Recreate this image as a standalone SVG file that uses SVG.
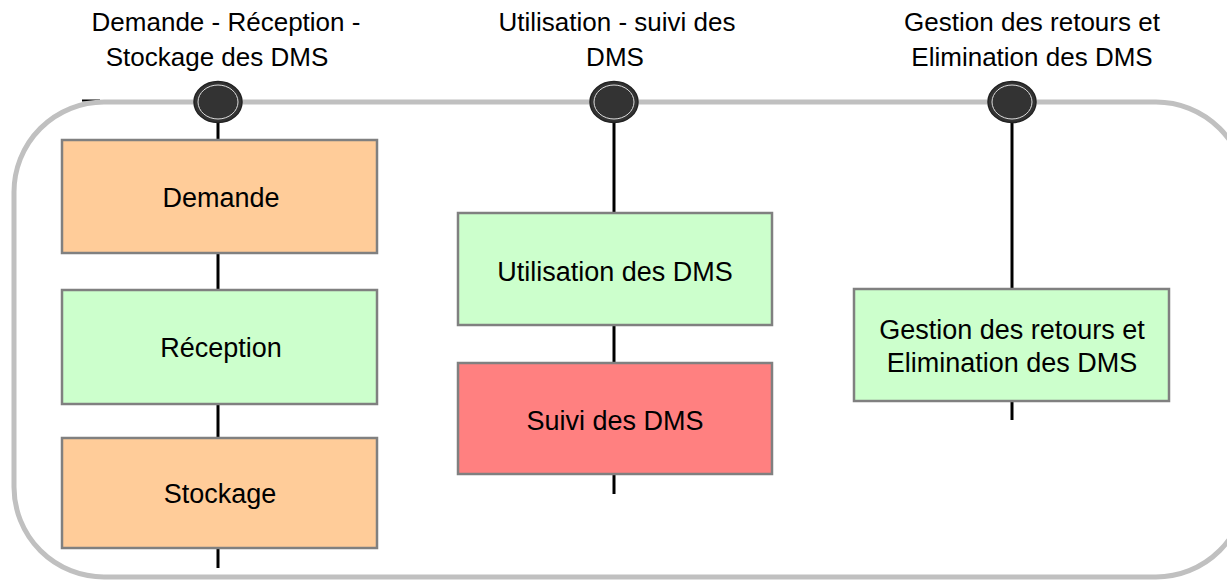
<svg xmlns="http://www.w3.org/2000/svg" width="1227" height="582" viewBox="0 0 1227 582">
<style>
text{font-family:"Liberation Sans",Arial,sans-serif;font-size:27px;fill:#000;text-anchor:middle}
.t{font-size:26px}
.box{stroke:#808080;stroke-width:2.5}
.o{fill:#FFCC99}.g{fill:#CCFFCC}.r{fill:#FF8080}
.c line{stroke:#000;stroke-width:3}
.dot{fill:#333;stroke:#222;stroke-width:1.5}
.ring{fill:none;stroke:#ddd;stroke-width:1}
</style>
<line x1="82" y1="100.5" x2="100" y2="100.5" stroke="#000" stroke-width="2"/>
<rect id="frame" x="14" y="102" width="1232" height="475" rx="90" ry="90" fill="none" stroke="#C0C0C0" stroke-width="5"/>
<g class="c" id="connectors">
<line x1="218" y1="122" x2="218" y2="140"/>
<line x1="218" y1="253" x2="218" y2="290"/>
<line x1="218" y1="404" x2="218" y2="438"/>
<line x1="218" y1="548" x2="218" y2="568"/>
<line x1="614" y1="122" x2="614" y2="213"/>
<line x1="614" y1="325" x2="614" y2="363"/>
<line x1="614" y1="474" x2="614" y2="494"/>
<line x1="1012" y1="122" x2="1012" y2="289"/>
<line x1="1012" y1="401" x2="1012" y2="420"/>
</g>
<g id="p1"><ellipse class="dot" cx="218" cy="102" rx="24" ry="20.5"/><ellipse class="ring" cx="218" cy="102" rx="20" ry="17"/>
<text class="t" x="226" y="31">Demande - Réception -</text><text class="t" x="217" y="66">Stockage des DMS</text></g>
<g id="p2"><ellipse class="dot" cx="614" cy="102" rx="24" ry="20.5"/><ellipse class="ring" cx="614" cy="102" rx="20" ry="17"/>
<text class="t" x="617" y="31">Utilisation - suivi des</text><text class="t" x="615" y="66">DMS</text></g>
<g id="p3"><ellipse class="dot" cx="1012" cy="102" rx="24" ry="20.5"/><ellipse class="ring" cx="1012" cy="102" rx="20" ry="17"/>
<text class="t" x="1032" y="31">Gestion des retours et</text><text class="t" x="1032" y="66">Elimination des DMS</text></g>
<g id="demande"><rect class="box o" x="62" y="140" width="315" height="113"/><text x="221" y="207">Demande</text></g>
<g id="reception"><rect class="box g" x="62" y="290" width="315" height="114"/><text x="221" y="357">Réception</text></g>
<g id="stockage"><rect class="box o" x="62" y="438" width="315" height="110"/><text x="220" y="503">Stockage</text></g>
<g id="utilisation"><rect class="box g" x="458" y="213" width="314" height="112"/><text x="615" y="281">Utilisation des DMS</text></g>
<g id="suivi"><rect class="box r" x="458" y="363" width="314" height="111"/><text x="615" y="430">Suivi des DMS</text></g>
<g id="gestion"><rect class="box g" x="854" y="289" width="315" height="112"/><text x="1012" y="339">Gestion des retours et</text><text x="1012" y="372">Elimination des DMS</text></g>
</svg>
